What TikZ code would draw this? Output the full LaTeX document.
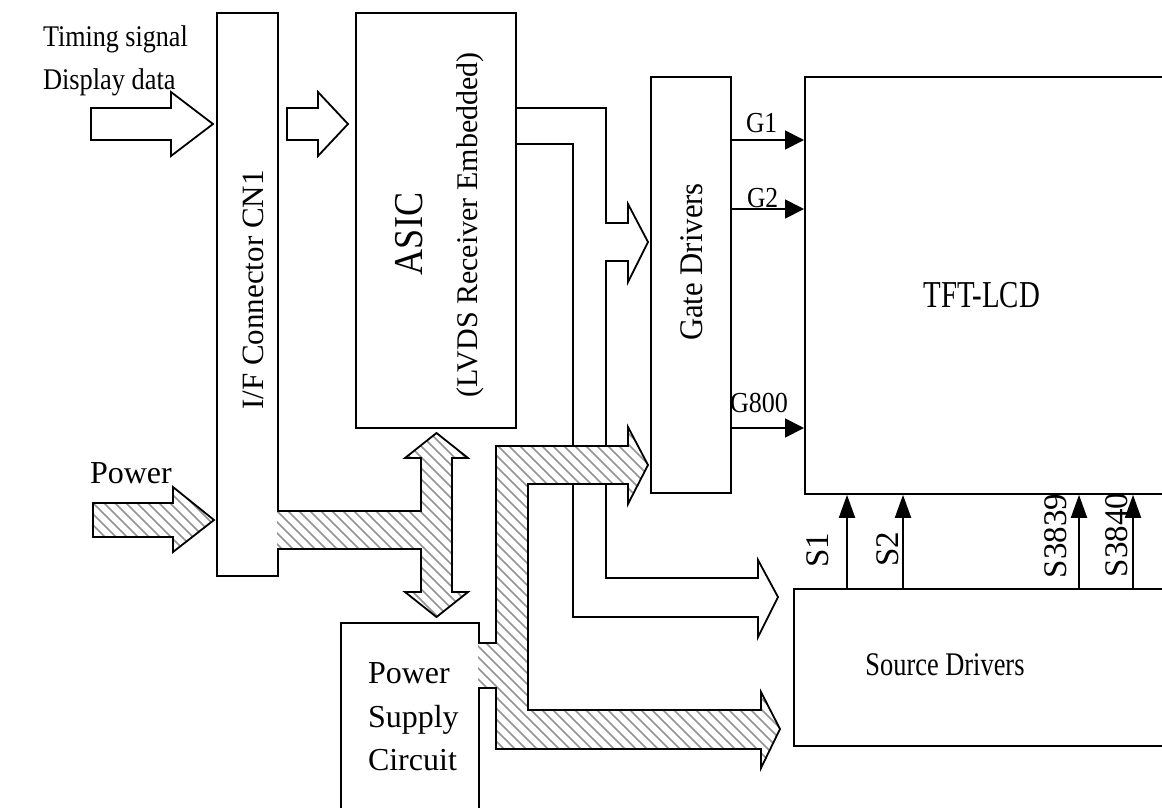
\documentclass[tikz,border=0pt]{standalone}
\usepackage{fontspec}
\setmainfont{Liberation Serif}
\usepackage{graphicx}
\usetikzlibrary{arrows.meta}
\newcommand\fsz[1]{\fontsize{#1}{#1}\selectfont}
\newcommand\hsq[2]{\scalebox{#1}[1]{#2}}
% outlines of the hatched power arrows
\def\pwrin{(93,503) -- (173,503) -- (173,487) -- (214,520) -- (173,552) -- (173,537) -- (93,537) -- cycle}
\def\pwrT{(277,511) -- (421,511) -- (421,458) -- (405,458) -- (436.5,433) -- (468,458)
  -- (452,458) -- (452,592) -- (468,592) -- (436.5,617) -- (405,592) -- (421,592)
  -- (421,549) -- (277,549)}
\def\pwrL{(478,643) -- (496,643) -- (496,446) -- (628,446) -- (628,427) -- (648,465)
  -- (628,504) -- (628,484) -- (528,484) -- (528,710) -- (761,710) -- (761,692)
  -- (780,729) -- (761,768) -- (761,749) -- (496,749) -- (496,688) -- (478,688)}
\begin{document}
\begin{tikzpicture}[x=1pt,y=-1pt,
  box/.style={draw, line width=1.8pt, anchor=north west, inner sep=0pt},
  lbl/.style={inner sep=0pt, outer sep=0pt},
  rlbl/.style={inner sep=0pt, outer sep=0pt, rotate=90, anchor=base},
  hline/.style={draw=black!42, line width=1.7pt},
  outl/.style={line width=1.8pt, line join=miter},
  blk/.style={line width=1.8pt, fill=white, line join=miter},
  wire/.style={line width=1.8pt, line join=miter},
  garrow/.style={line width=1.8pt, -{Triangle[length=19pt,width=19pt]}},
  sarrow/.style={line width=1.8pt, -{Triangle[length=23pt,width=16pt]}},
]
\useasboundingbox (0,0) rectangle (1162,807);
\clip (0,0) rectangle (1162,807);

% boxes
\node[box, minimum width=61, minimum height=563] (cn1) at (216,12) {};
\node[box, minimum width=160, minimum height=415] (asic) at (355,12) {};
\node[box, minimum width=80, minimum height=416] (gate) at (650,76) {};
\node[box, minimum width=420, minimum height=417] (tft) at (804,76) {};
\node[box, minimum width=420, minimum height=157] (src) at (793,588) {};
\node[box, minimum width=138, minimum height=260] (psu) at (340,622) {};

% input block arrows
\draw[blk] (91,108) -- (171,108) -- (171,92) -- (213,124) -- (171,156) -- (171,140) -- (91,140) -- cycle;
\draw[blk] (287,108) -- (318,108) -- (318,92) -- (348,124) -- (318,156) -- (318,140) -- (287,140) -- cycle;

% ASIC output (outline double-line arrow)
\draw[wire] (515,108) -- (606,108) -- (606,223) -- (628,223) -- (628,204) -- (648,242)
  -- (628,282) -- (628,261) -- (606,261) -- (606,578) -- (758,578) -- (758,560)
  -- (778,597) -- (758,637) -- (758,617) -- (573,617) -- (573,144) -- (515,144);

% hatched power arrows
\fill[white] \pwrin;
\fill[white] \pwrT;
\fill[white] \pwrL;
\begin{scope}
  \clip \pwrin;
  \foreach \c in {-200,-189,...,260} \draw[hline] (\c,430) -- ++(200,200);
\end{scope}
\begin{scope}
  \clip \pwrT;
  \foreach \c in {-100,-89,...,500} \draw[hline] (\c,420) -- ++(220,220);
\end{scope}
\begin{scope}
  \clip \pwrL;
  \foreach \c in {-100,-89,...,800} \draw[hline] (\c,420) -- ++(360,360);
\end{scope}
\draw[outl] \pwrin;
\draw[outl] \pwrT;
\draw[outl] \pwrL;

% gate lines
\draw[garrow] (gate.east |- 0,140) -- (tft.west |- 0,140);
\draw[garrow] (gate.east |- 0,209) -- (tft.west |- 0,209);
\draw[garrow] (gate.east |- 0,428) -- (tft.west |- 0,428);

% source lines
\draw[sarrow] (src.north -| 847,0) -- (tft.south -| 847,0);
\draw[sarrow] (src.north -| 903,0) -- (tft.south -| 903,0);
\draw[sarrow] (src.north -| 1079,0) -- (tft.south -| 1079,0);
\draw[sarrow] (src.north -| 1133,0) -- (tft.south -| 1133,0);

% labels
\node[lbl, anchor=base west] (ts) at (43,46) {\fsz{30}\hsq{0.87}{Timing signal}};
\node[lbl, anchor=base west] (dd) at (43,89) {\fsz{30}\hsq{0.88}{Display data}};
\node[lbl, anchor=base west] (pw) at (90,483) {\fsz{32}Power};
\node[lbl, anchor=base west] (ps1) at (368,683) {\fsz{32}Power};
\node[lbl, anchor=base west] (ps2) at (368,727) {\fsz{32}Supply};
\node[lbl, anchor=base west] (ps3) at (368,770) {\fsz{32}Circuit};
\node[rlbl] (cn1t) at (263,290) {\fsz{31}I/F Connector CN1};
\node[rlbl] (asict) at (422,234) {\fsz{41}\hsq{0.88}{ASIC}};
\node[rlbl] (lvds) at (477,225) {\fsz{30}(LVDS Receiver Embedded)};
\node[rlbl] (gatet) at (702,262) {\fsz{33}\hsq{0.93}{Gate Drivers}};
\node[lbl, anchor=base] (tftt) at (982,307) {\fsz{38}\hsq{0.76}{TFT-LCD}};
\node[lbl, anchor=base] (srct) at (945,675) {\fsz{33}\hsq{0.8}{Source Drivers}};
\node[lbl, anchor=base west] (g1) at (746,132) {\fsz{29}\hsq{0.88}{G1}};
\node[lbl, anchor=base west] (g2) at (747,207) {\fsz{29}\hsq{0.88}{G2}};
\node[lbl, anchor=base west] (g800) at (730,412) {\fsz{29}\hsq{0.9}{G800}};
\node[rlbl] (s1) at (828,550) {\fsz{33}S1};
\node[rlbl] (s2) at (898,549) {\fsz{33}S2};
\node[rlbl] (s3839) at (1066,536) {\fsz{33}S3839};
\node[rlbl] (s3840) at (1127,535) {\fsz{33}S3840};
\end{tikzpicture}
\end{document}
